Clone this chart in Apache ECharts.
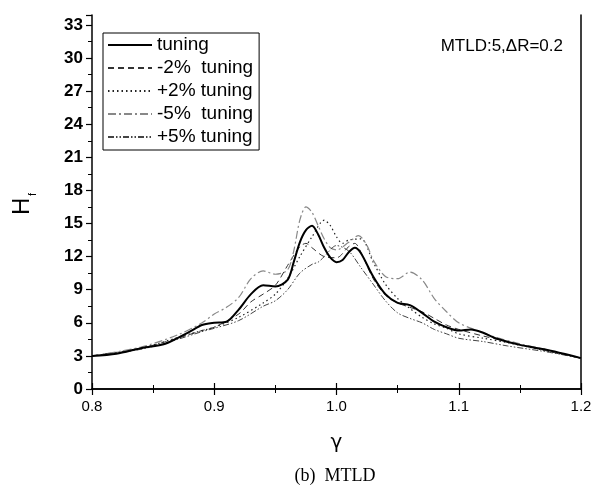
<!DOCTYPE html>
<html>
<head>
<meta charset="utf-8">
<script src="https://cdn.jsdelivr.net/npm/echarts@6/dist/echarts.min.js"></script>
<style>
html,body{margin:0;padding:0;background:#fff;}
#chart{width:603px;height:500px;}
</style>
</head>
<body>
<div id="chart"></div>
<script>
// ---- data ----
var seriesNames = ['tuning', '-2%  tuning', '+2% tuning', '-5%  tuning', '+5% tuning'];

var gTuning = [0.80,0.82,0.84,0.86,0.88,0.89,0.90,0.91,0.92,0.93,0.94,0.95,0.96,0.965,0.97,0.975,0.98,0.985,0.99,0.995,1.00,1.005,1.01,1.015,1.02,1.03,1.04,1.05,1.06,1.07,1.08,1.09,1.10,1.11,1.12,1.13,1.15,1.17,1.20];
var hTuning = [3.0,3.2,3.7,4.1,5.2,5.8,6.0,6.1,7.2,8.6,9.4,9.3,9.9,11.5,13.3,14.4,14.8,14.0,12.8,11.9,11.5,11.7,12.4,12.8,12.3,10.2,8.6,7.8,7.6,6.9,6.1,5.6,5.3,5.4,5.1,4.6,4.0,3.6,2.8];

var gM2 = [0.80,0.84,0.87,0.89,0.90,0.92,0.93,0.94,0.95,0.96,0.97,0.975,0.98,0.99,1.00,1.01,1.015,1.02,1.03,1.04,1.05,1.06,1.07,1.08,1.09,1.10,1.12,1.14,1.17,1.20];
var hM2 = [3.0,3.7,4.6,5.3,5.6,6.8,7.9,8.6,9.4,11.2,12.9,13.2,12.8,12.0,11.9,12.9,13.2,12.4,10.0,8.5,7.8,7.4,7.0,6.4,5.8,5.4,4.8,4.3,3.5,2.8];

var gP2 = [0.80,0.84,0.88,0.90,0.92,0.94,0.95,0.96,0.97,0.98,0.99,0.995,1.00,1.005,1.01,1.02,1.03,1.04,1.05,1.06,1.07,1.08,1.09,1.10,1.12,1.14,1.17,1.20];
var hP2 = [3.0,3.7,5.0,5.6,6.5,7.8,8.6,10.0,12.0,13.8,15.3,14.8,13.8,13.2,13.5,13.6,11.5,9.5,8.2,7.3,6.5,5.9,5.5,5.0,4.6,4.2,3.5,2.8];

var gM5 = [0.80,0.84,0.87,0.89,0.90,0.91,0.92,0.93,0.94,0.95,0.96,0.965,0.97,0.975,0.98,0.985,0.99,0.995,1.00,1.01,1.018,1.025,1.03,1.04,1.05,1.06,1.07,1.08,1.09,1.10,1.115,1.13,1.15,1.17,1.20];
var hM5 = [3.0,3.8,4.9,6.0,6.8,7.4,8.3,10.0,10.7,10.4,10.8,12.5,15.3,16.5,16.0,14.8,13.6,12.8,12.6,13.3,13.9,13.0,11.7,10.2,10.0,10.6,9.9,8.2,7.0,6.0,5.3,4.7,4.1,3.6,2.8];

var gP5 = [0.80,0.84,0.87,0.89,0.90,0.92,0.94,0.95,0.96,0.97,0.98,0.985,0.99,1.00,1.01,1.02,1.03,1.04,1.05,1.06,1.07,1.08,1.09,1.10,1.12,1.14,1.17,1.20];
var hP5 = [3.0,3.6,4.5,5.2,5.5,6.2,7.5,8.0,9.0,10.5,11.3,11.5,12.0,13.0,12.5,11.0,9.5,8.0,6.9,6.4,6.0,5.4,5.0,4.6,4.3,3.9,3.4,2.8];

var xTicks = [0.8, 0.9, 1.0, 1.1, 1.2];
var yTicks = [0, 3, 6, 9, 12, 15, 18, 21, 24, 27, 30, 33];

function pairs(g, h) { return g.map(function (v, i) { return [v, h[i]]; }); }

var styles = [
  { color: '#000', width: 2, type: 'solid' },
  { color: '#333', width: 1, type: [6, 4] },
  { color: '#222', width: 1.2, type: [1.5, 3] },
  { color: '#888', width: 1.2, type: [8, 3, 2, 3] },
  { color: '#444', width: 1, type: [6, 2, 1.5, 2, 1.5, 2] }
];
var dataSets = [pairs(gTuning, hTuning), pairs(gM2, hM2), pairs(gP2, hP2), pairs(gM5, hM5), pairs(gP5, hP5)];

var series = seriesNames.map(function (n, i) {
  return {
    name: n, type: 'line', data: dataSets[i], smooth: 0.3, symbol: 'none',
    xAxisIndex: 0, yAxisIndex: 0,
    lineStyle: { color: styles[i].color, width: styles[i].width, type: styles[i].type },
    itemStyle: { color: styles[i].color },
    z: i === 0 ? 5 : 3
  };
});

var chart = echarts.init(document.getElementById('chart'), null, { renderer: 'canvas' });
var axisLine = { show: true, lineStyle: { color: '#000', width: 1.5 } };
chart.setOption({
  animation: false,
  backgroundColor: '#fff',
  grid: { left: 92, right: 22, top: 15, bottom: 111 },
  legend: {
    orient: 'vertical', left: 103, top: 33,
    data: seriesNames,
    backgroundColor: '#fff',
    borderColor: '#000', borderWidth: 1,
    padding: [2, 6, 3, 4],
    itemWidth: 44, itemHeight: 14, itemGap: 3, itemTextGap: 4,
    itemStyle: { opacity: 0 },
    textStyle: { fontFamily: 'Liberation Sans, Arial', fontSize: 19, color: '#000', lineHeight: 20 }
  },
  xAxis: [{
    type: 'value', position: 'bottom', min: 0.8, max: 1.2, interval: 0.1,
    axisLine: axisLine,
    axisTick: { show: true, inside: false, length: 6, lineStyle: { color: '#000', width: 1.2 } },
    minorTick: { show: true, splitNumber: 2, length: 4, lineStyle: { color: '#000', width: 1 } },
    splitLine: { show: false },
    axisLabel: { margin: 10, fontFamily: 'Liberation Sans, Arial', fontSize: 15, color: '#000',
      formatter: function (v) { return v.toFixed(1); } },
    name: 'γ', nameLocation: 'middle', nameGap: 44,
    nameTextStyle: { fontFamily: 'DejaVu Sans', fontSize: 20, color: '#000' }
  }, {
    type: 'value', position: 'top', min: 0.8, max: 1.2, interval: 0.1,
    axisLine: axisLine,
    axisTick: { show: true, inside: false, length: 6, lineStyle: { color: '#000', width: 1.2 } },
    minorTick: { show: true, splitNumber: 2, length: 4, lineStyle: { color: '#000', width: 1 } },
    splitLine: { show: false }, axisLabel: { show: false }
  }],
  yAxis: [{
    type: 'value', position: 'left', min: 0, max: 33.9, interval: 3,
    axisLine: axisLine,
    axisTick: { show: true, inside: false, length: 6, lineStyle: { color: '#000', width: 1.2 } },
    minorTick: { show: true, splitNumber: 2, length: 4, lineStyle: { color: '#000', width: 1 } },
    splitLine: { show: false },
    axisLabel: { margin: 9, fontFamily: 'Liberation Sans, Arial', fontWeight: 'bold', fontSize: 17, color: '#000',
      showMaxLabel: false,
      formatter: function (v) { return yTicks.indexOf(v) >= 0 ? String(v) : ''; } }
  }, {
    type: 'value', position: 'right', min: 0, max: 33.9,
    axisLine: axisLine, axisTick: { show: false }, splitLine: { show: false }, axisLabel: { show: false }
  }],
  graphic: [
    { type: 'text', right: 40, top: 38,
      style: { text: 'MTLD:5,ΔR=0.2', font: '17px "Liberation Sans", Arial', fill: '#000' } },
    { type: 'text', x: 34, y: 215, rotation: Math.PI / 2,
      style: { text: 'H', font: '24px "Liberation Sans", Arial', fill: '#000', textAlign: 'left', textVerticalAlign: 'bottom' } },
    { type: 'text', x: 38, y: 196, rotation: Math.PI / 2,
      style: { text: 'f', font: '11px "Liberation Sans", Arial', fill: '#000', textAlign: 'left', textVerticalAlign: 'bottom' } },
    { type: 'text', x: 335, y: 476,
      style: { text: '(b)  MTLD', font: '18px "Liberation Serif", "Times New Roman", serif', fill: '#000', textAlign: 'center', textVerticalAlign: 'middle' } }
  ],
  series: series
});
</script>
</body>
</html>
